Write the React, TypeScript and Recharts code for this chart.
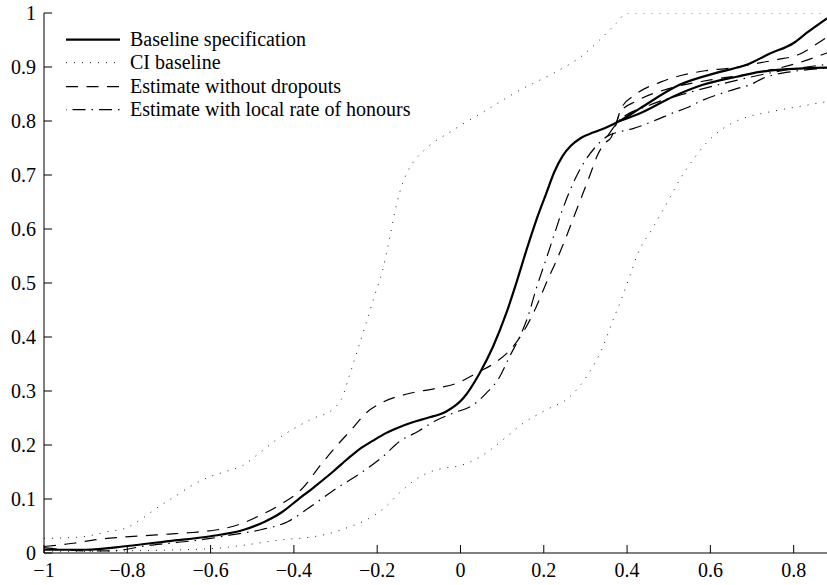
import React from 'react';
import { LineChart, Line, XAxis, YAxis, Legend } from 'recharts';

// x position, estimated probability
const baseline: [number, number][] = [
  [-1, 0.006], [-0.9, 0.006], [-0.8, 0.013], [-0.7, 0.022], [-0.6, 0.031], [-0.52, 0.043],
  [-0.47, 0.058], [-0.43, 0.075], [-0.39, 0.099], [-0.35, 0.123], [-0.307, 0.15], [-0.27, 0.175],
  [-0.243, 0.192], [-0.21, 0.208], [-0.179, 0.222], [-0.15, 0.232], [-0.115, 0.242], [-0.08, 0.25],
  [-0.034, 0.262], [0.006, 0.286], [0.046, 0.333], [0.078, 0.382], [0.11, 0.444], [0.134, 0.5],
  [0.158, 0.56], [0.18, 0.612], [0.206, 0.666], [0.225, 0.705], [0.245, 0.735], [0.265, 0.754],
  [0.29, 0.769], [0.32, 0.779], [0.35, 0.788], [0.382, 0.8], [0.43, 0.823], [0.526, 0.867],
  [0.623, 0.891], [0.687, 0.904], [0.743, 0.925], [0.799, 0.944], [0.831, 0.963], [0.88, 0.99],
];
const baselineAlt: [number, number][] = [
  [0.382, 0.8], [0.43, 0.814], [0.51, 0.845], [0.582, 0.867], [0.663, 0.882], [0.719, 0.891],
  [0.783, 0.896], [0.88, 0.899],
];
const ciUpper: [number, number][] = [
  [-1, 0.027], [-0.908, 0.03], [-0.844, 0.04], [-0.804, 0.046], [-0.764, 0.064], [-0.724, 0.086],
  [-0.683, 0.106], [-0.643, 0.126], [-0.603, 0.141], [-0.563, 0.151], [-0.523, 0.162], [-0.483, 0.185],
  [-0.443, 0.209], [-0.403, 0.229], [-0.355, 0.249], [-0.307, 0.266], [-0.283, 0.29], [-0.267, 0.328],
  [-0.247, 0.376], [-0.227, 0.425], [-0.207, 0.475], [-0.187, 0.524], [-0.171, 0.58], [-0.155, 0.641],
  [-0.139, 0.685], [-0.115, 0.722], [-0.087, 0.746], [-0.018, 0.783], [0.062, 0.82], [0.142, 0.857],
  [0.222, 0.888], [0.294, 0.922], [0.334, 0.95], [0.374, 0.981], [0.4, 1], [0.88, 1],
];
const ciLower: [number, number][] = [
  [-1, 0.002], [-0.8, 0.004], [-0.6, 0.008], [-0.515, 0.015], [-0.435, 0.024], [-0.355, 0.03],
  [-0.315, 0.036], [-0.275, 0.046], [-0.227, 0.061], [-0.179, 0.086], [-0.147, 0.111], [-0.115, 0.132],
  [-0.08, 0.148], [-0.04, 0.157], [0, 0.162], [0.04, 0.175], [0.082, 0.197], [0.11, 0.215],
  [0.15, 0.24], [0.206, 0.265], [0.262, 0.289], [0.302, 0.326], [0.342, 0.382], [0.366, 0.431],
  [0.386, 0.469], [0.406, 0.512], [0.426, 0.555], [0.46, 0.6], [0.502, 0.657], [0.526, 0.691],
  [0.558, 0.728], [0.59, 0.759], [0.63, 0.786], [0.679, 0.805], [0.743, 0.817], [0.807, 0.826],
  [0.88, 0.836],
];
const noDropouts: [number, number][] = [
  [-1, 0.012], [-0.93, 0.018], [-0.873, 0.025], [-0.817, 0.029], [-0.76, 0.032], [-0.7, 0.035],
  [-0.644, 0.038], [-0.584, 0.043], [-0.531, 0.053], [-0.483, 0.069], [-0.427, 0.092], [-0.379, 0.12],
  [-0.339, 0.16], [-0.299, 0.197], [-0.259, 0.231], [-0.227, 0.259], [-0.187, 0.279], [-0.131, 0.294],
  [-0.058, 0.305], [-0.01, 0.314], [0.038, 0.333], [0.086, 0.354], [0.126, 0.382], [0.158, 0.419],
  [0.182, 0.456], [0.206, 0.5], [0.23, 0.541], [0.25, 0.578], [0.27, 0.618], [0.29, 0.658],
  [0.31, 0.698], [0.328, 0.735], [0.345, 0.758], [0.362, 0.77], [0.372, 0.79], [0.385, 0.822],
  [0.422, 0.85], [0.48, 0.872], [0.587, 0.893], [0.647, 0.898], [0.7, 0.905], [0.755, 0.913],
  [0.815, 0.924], [0.85, 0.94], [0.88, 0.955],
];
const noDropoutsAlt: [number, number][] = [
  [0.372, 0.79], [0.385, 0.818], [0.42, 0.836], [0.5, 0.86], [0.6, 0.876], [0.7, 0.888],
  [0.8, 0.905], [0.88, 0.926],
];
const localRate: [number, number][] = [
  [-1, 0.01], [-0.95, 0.006], [-0.9, 0.004], [-0.85, 0.004], [-0.8, 0.007], [-0.76, 0.013],
  [-0.7, 0.018], [-0.65, 0.022], [-0.6, 0.027], [-0.547, 0.034], [-0.48, 0.043], [-0.415, 0.058],
  [-0.356, 0.088], [-0.299, 0.119], [-0.24, 0.148], [-0.187, 0.178], [-0.147, 0.206], [-0.1, 0.226],
  [-0.06, 0.245], [-0.018, 0.259], [0.03, 0.274], [0.062, 0.296], [0.094, 0.326], [0.118, 0.364],
  [0.142, 0.4], [0.162, 0.438], [0.182, 0.49], [0.206, 0.545], [0.226, 0.592], [0.246, 0.638],
  [0.27, 0.684], [0.294, 0.72], [0.322, 0.75], [0.353, 0.772], [0.382, 0.78], [0.414, 0.786],
  [0.47, 0.802], [0.51, 0.815], [0.542, 0.824], [0.574, 0.836], [0.63, 0.852], [0.663, 0.86],
  [0.695, 0.867], [0.726, 0.879], [0.791, 0.891], [0.822, 0.894], [0.88, 0.898],
];
const localRateAlt: [number, number][] = [
  [0.353, 0.772], [0.38, 0.8], [0.45, 0.828], [0.55, 0.853], [0.65, 0.873], [0.75, 0.89],
  [0.88, 0.905],
];

const xTicks = [-1, -0.8, -0.6, -0.4, -0.2, 0, 0.2, 0.4, 0.6, 0.8];
const yTicks = [0, 0.1, 0.2, 0.3, 0.4, 0.5, 0.6, 0.7, 0.8, 0.9, 1];

const legendLabels = [
  'Baseline specification',
  'CI baseline',
  'Estimate without dropouts',
  'Estimate with local rate of honours',
];

const FONT = '"Liberation Serif", "Times New Roman", serif';
const SOLID = { stroke: '#000', strokeWidth: 2.2 };
const DOTTED = { stroke: '#222', strokeWidth: 1, strokeDasharray: '1 7' };
const DASHED = { stroke: '#000', strokeWidth: 1.2, strokeDasharray: '12 8.5' };
const DASHDOT = { stroke: '#000', strokeWidth: 1.2, strokeDasharray: '13 6 1.5 6' };
const legendStyles = [SOLID, DOTTED, DASHED, { ...DASHDOT, strokeDashoffset: 20 }];

const toPoints = (pts: [number, number][]) => pts.map(([x, y]) => ({ x, y }));
const fmt = (v: number) => String(v).replace('-', '\u2212');

const labelStyle = { fontFamily: FONT, fontSize: 20 };

const XTick = (props: any) => {
  const { x, y, payload } = props;
  return (
    <g>
      <line x1={x} x2={x} y1={y} y2={y - 8} stroke="#000" strokeWidth={1} />
      <text x={x} y={y + 24} textAnchor="middle" fill="#000" style={labelStyle}>
        {fmt(payload.value)}
      </text>
    </g>
  );
};

const YTick = (props: any) => {
  const { x, y, payload } = props;
  return (
    <g>
      <line x1={x} x2={x + 8} y1={y} y2={y} stroke="#000" strokeWidth={1} />
      <text x={x - 8} y={y + 7} textAnchor="end" fill="#000" style={labelStyle}>
        {fmt(payload.value)}
      </text>
    </g>
  );
};

const LegendBox = () => (
  <div style={{ fontFamily: FONT, fontSize: 20, color: '#000' }}>
    {legendLabels.map((label, i) => (
      <div key={label} style={{ display: 'flex', alignItems: 'center', height: 23.3, whiteSpace: 'nowrap' }}>
        <svg width={54} height={23.3} style={{ marginRight: 10, display: 'block' }}>
          <line x1={0} x2={54} y1={11.65} y2={11.65} {...legendStyles[i]} />
        </svg>
        <span style={{ lineHeight: '23.3px' }}>{label}</span>
      </div>
    ))}
  </div>
);

const series = [
  { key: 'baseline', data: baseline, style: SOLID },
  { key: 'baselineAlt', data: baselineAlt, style: SOLID },
  { key: 'ciUpper', data: ciUpper, style: DOTTED },
  { key: 'ciLower', data: ciLower, style: DOTTED },
  { key: 'noDropouts', data: noDropouts, style: DASHED },
  { key: 'noDropoutsAlt', data: noDropoutsAlt, style: DASHED },
  { key: 'localRate', data: localRate, style: DASHDOT },
  { key: 'localRateAlt', data: localRateAlt, style: DASHDOT },
];

export default function App() {
  return (
    <div style={{ position: 'fixed', left: 0, top: 0, background: '#fff' }}>
      <LineChart width={827} height={585} margin={{ top: 13, right: 0, bottom: 0, left: 0 }}>
        <XAxis
          type="number"
          dataKey="x"
          domain={[-1, 0.88]}
          ticks={xTicks}
          interval={0}
          allowDataOverflow
          height={32}
          tickSize={0}
          tickMargin={0}
          tickLine={false}
          axisLine={{ stroke: '#000', strokeWidth: 1 }}
          tick={(p: any) => <XTick {...p} />}
        />
        <YAxis
          type="number"
          domain={[0, 1]}
          ticks={yTicks}
          interval={0}
          allowDataOverflow
          width={44}
          tickSize={0}
          tickMargin={0}
          tickLine={false}
          axisLine={{ stroke: '#000', strokeWidth: 1 }}
          tick={(p: any) => <YTick {...p} />}
        />
        <Legend
          layout="horizontal"
          align="center"
          verticalAlign="middle"
          content={() => <LegendBox />}
          wrapperStyle={{ left: 66, top: 28, width: 'auto', height: 'auto' }}
        />
        {series.map((s) => (
          <Line
            key={s.key}
            data={toPoints(s.data)}
            dataKey="y"
            type="monotone"
            dot={false}
            activeDot={false}
            legendType="none"
            isAnimationActive={false}
            {...s.style}
          />
        ))}
      </LineChart>
    </div>
  );
}
